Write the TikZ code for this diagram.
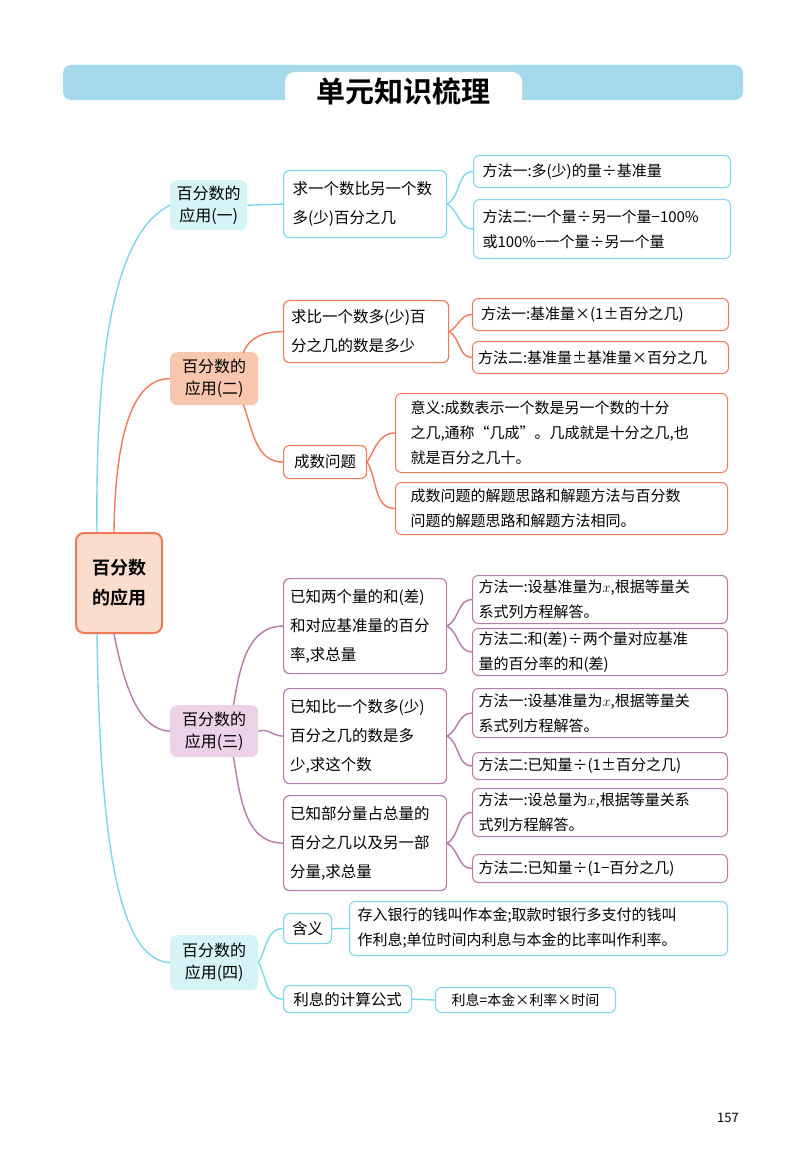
\documentclass[tikz,border=0pt]{standalone}
\usepackage{fontspec}
\setmainfont{Noto Sans CJK SC}
\newfontfamily\cjkb{Noto Sans CJK SC Bold}
\definecolor{cy}{HTML}{7DD6EA}
\definecolor{cyf}{HTML}{D6F3F8}
\definecolor{orl}{HTML}{EE7A5C}
\definecolor{orf}{HTML}{F8C6AC}
\definecolor{pu}{HTML}{B47AA8}
\definecolor{puf}{HTML}{EBD2E8}
\definecolor{hdr}{HTML}{A6DAEA}
\begin{document}
\begin{tikzpicture}[x=1pt,y=-1pt,
  bx/.style={draw,line width=1.2pt,rounded corners=6pt,fill=white,anchor=north west,inner sep=0pt,align=left},
  lone/.style={rounded corners=7pt,anchor=north west,inner sep=0pt,align=center,font=\fontsize{16}{22}\selectfont},
  cn/.style={line width=1.4pt}]
\useasboundingbox (0,0) rectangle (800,1156);
\fill[white] (0,0) rectangle (800,1156);
% header
\fill[hdr,rounded corners=8pt] (63,65) rectangle (743,100);
\fill[white,rounded corners=10pt] (285,72) rectangle (522,112);
\fill[white] (280,100) rectangle (527,112);
\node (title) at (403,91) {\fontsize{29}{32}\selectfont\cjkb 单元知识梳理};
% root
\node[draw=orl,fill=orf!60,line width=2pt,rounded corners=8pt,anchor=north west,minimum width=86pt,minimum height=100pt,align=center,font=\fontsize{18}{30}\selectfont\cjkb] (root) at (75,532) {百分数\\的应用};
% level1
\node[lone,fill=cyf,minimum width=77pt,minimum height=50pt] (a1) at (170,180) {百分数的\\应用(一)};
\node[lone,fill=orf,minimum width=88pt,minimum height=53pt] (a2) at (170,352) {百分数的\\应用(二)};
\node[lone,fill=puf,minimum width=88pt,minimum height=52pt] (a3) at (170,705) {百分数的\\应用(三)};
\node[lone,fill=cyf,minimum width=88pt,minimum height=55pt] (a4) at (170,935) {百分数的\\应用(四)};
% level2
\tikzset{l2/.style={bx,font=\fontsize{15.5}{29}\selectfont}}
\node[l2,draw=cy,minimum width=163pt,minimum height=67pt,text width=155pt] (b1) at (283,170) {\hspace*{5pt}求一个数比另一个数\\\hspace*{5pt}多(少)百分之几};
\node[l2,draw=orl,minimum width=165pt,minimum height=62pt,text width=160pt] (b2) at (283,300) {\hspace*{5pt}求比一个数多(少)百\\\hspace*{5pt}分之几的数是多少};
\node[l2,draw=orl,minimum width=83pt,minimum height=33pt,align=center] (b3) at (283,445) {成数问题};
\node[l2,draw=pu,minimum width=163pt,minimum height=95pt,text width=160pt] (b4) at (283,578) {\hspace*{5pt}已知两个量的和(差)\\\hspace*{5pt}和对应基准量的百分\\\hspace*{5pt}率,求总量};
\node[l2,draw=pu,minimum width=163pt,minimum height=95pt,text width=160pt] (b5) at (283,688) {\hspace*{5pt}已知比一个数多(少)\\\hspace*{5pt}百分之几的数是多\\\hspace*{5pt}少,求这个数};
\node[l2,draw=pu,minimum width=163pt,minimum height=95pt,text width=160pt] (b6) at (283,795) {\hspace*{5pt}已知部分量占总量的\\\hspace*{5pt}百分之几以及另一部\\\hspace*{5pt}分量,求总量};
\node[l2,draw=cy,minimum width=48pt,minimum height=30pt,align=center] (b7) at (283,913) {含义};
\node[l2,draw=cy,minimum width=128pt,minimum height=27pt,align=center] (b8) at (283,985) {利息的计算公式};
% level3
\tikzset{l3/.style={bx,line width=1pt,font=\fontsize{15}{25}\selectfont}}
\node[l3,draw=cy,minimum width=257pt,minimum height=32pt,text width=255pt] (c1) at (473,155) {\hspace*{8pt}方法一:多(少)的量÷基准量};
\node[l3,draw=cy,minimum width=257pt,minimum height=59pt,text width=255pt] (c2) at (473,199) {\hspace*{8pt}方法二:一个量÷另一个量−100\%\\\hspace*{8pt}或100\%−一个量÷另一个量};
\node[l3,draw=orl,minimum width=256pt,minimum height=32pt,text width=255pt] (c3) at (472,298) {\hspace*{8pt}方法一:基准量×(1±百分之几)};
\node[l3,draw=orl,minimum width=256pt,minimum height=32pt,text width=255pt] (c4) at (472,341) {\hspace*{5pt}方法二:基准量±基准量×百分之几};
\node[l3,draw=orl,minimum width=332pt,minimum height=79pt,text width=330pt] (c5) at (395,393) {\hspace*{14pt}意义:成数表示一个数是另一个数的十分\\\hspace*{14pt}之几,通称“几成”。几成就是十分之几,也\\\hspace*{14pt}就是百分之几十。};
\node[l3,draw=orl,minimum width=332pt,minimum height=52pt,text width=330pt] (c6) at (395,482) {\hspace*{14pt}成数问题的解题思路和解题方法与百分数\\\hspace*{14pt}问题的解题思路和解题方法相同。};
\node[l3,draw=pu,minimum width=255pt,minimum height=48pt,text width=255pt] (c7) at (472,575) {\hspace*{6pt}方法一:设基准量为$x$,根据等量关\\\hspace*{6pt}系式列方程解答。};
\node[l3,draw=pu,minimum width=255pt,minimum height=47pt,text width=255pt] (c8) at (472,628) {\hspace*{6pt}方法二:和(差)÷两个量对应基准\\\hspace*{6pt}量的百分率的和(差)};
\node[l3,draw=pu,minimum width=255pt,minimum height=49pt,text width=255pt] (c9) at (472,688) {\hspace*{6pt}方法一:设基准量为$x$,根据等量关\\\hspace*{6pt}系式列方程解答。};
\node[l3,draw=pu,minimum width=255pt,minimum height=27pt,text width=255pt] (c10) at (472,752) {\hspace*{6pt}方法二:已知量÷(1±百分之几)};
\node[l3,draw=pu,minimum width=255pt,minimum height=48pt,text width=255pt] (c11) at (472,788) {\hspace*{6pt}方法一:设总量为$x$,根据等量关系\\\hspace*{6pt}式列方程解答。};
\node[l3,draw=pu,minimum width=255pt,minimum height=28pt,text width=255pt] (c12) at (472,854) {\hspace*{6pt}方法二:已知量÷(1−百分之几)};
\node[l3,draw=cy,minimum width=378pt,minimum height=54pt,text width=378pt] (c13) at (349,901) {\hspace*{8pt}存入银行的钱叫作本金;取款时银行多支付的钱叫\\\hspace*{8pt}作利息;单位时间内利息与本金的比率叫作利率。};
\node[l3,draw=cy,minimum width=180pt,minimum height=25pt,align=center,font=\fontsize{14}{16}\selectfont] (c14) at (435,987) {利息=本金×利率×时间};
\node (pg) at (728,1118) {\fontsize{13}{15}\selectfont 157};
% root connectors
\draw[cn,cy] (root.north west)++(22,0) .. controls (95,330) and (120,230) .. (a1.west);
\draw[cn,orl] (root.north)++(-5,0) .. controls (115,460) and (125,378) .. (a2.west);
\draw[cn,pu] (root.south)++(-5,0) .. controls (125,690) and (140,730) .. (a3.west);
\draw[cn,cy] (root.south west)++(22,0) .. controls (100,850) and (120,960) .. (a4.west);
% level1 -> level2
\draw[cn,cy] (a1.east) -- (b1.west);
\draw[cn,orl] (a2.east)++(-15,-26) to[out=70,in=180] (b2.west);
\draw[cn,orl] (a2.east)++(-15,26) to[out=-70,in=180] (b3.west);
\draw[cn,pu] (a3.east)++(-25,-26) to[out=80,in=180] (b4.west);
\draw[cn,pu] (a3.east) to[out=20,in=180] (b5.west);
\draw[cn,pu] (a3.east)++(-25,26) to[out=-80,in=180] (b6.west);
\draw[cn,cy] (a4.east) to[out=60,in=180] (b7.west);
\draw[cn,cy] (a4.east) to[out=-60,in=180] (b8.west);
% level2 -> level3
\draw[cn,cy] (b1.east) to[out=30,in=180] (c1.west);
\draw[cn,cy] (b1.east) to[out=-30,in=180] (c2.west);
\draw[cn,orl] (b2.east) to[out=30,in=180] (c3.west);
\draw[cn,orl] (b2.east) to[out=-30,in=180] (c4.west);
\draw[cn,orl] (b3.east) to[out=60,in=180] (c5.west);
\draw[cn,orl] (b3.east) to[out=-60,in=180] (c6.west);
\draw[cn,pu] (b4.east) to[out=30,in=180] (c7.west);
\draw[cn,pu] (b4.east) to[out=-30,in=180] (c8.west);
\draw[cn,pu] (b5.east) to[out=30,in=180] (c9.west);
\draw[cn,pu] (b5.east) to[out=-30,in=180] (c10.west);
\draw[cn,pu] (b6.east) to[out=30,in=180] (c11.west);
\draw[cn,pu] (b6.east) to[out=-30,in=180] (c12.west);
\draw[cn,cy] (b7.east) -- (c13.west);
\draw[cn,cy] (b8.east) -- (c14.west);
\end{tikzpicture}
\end{document}
